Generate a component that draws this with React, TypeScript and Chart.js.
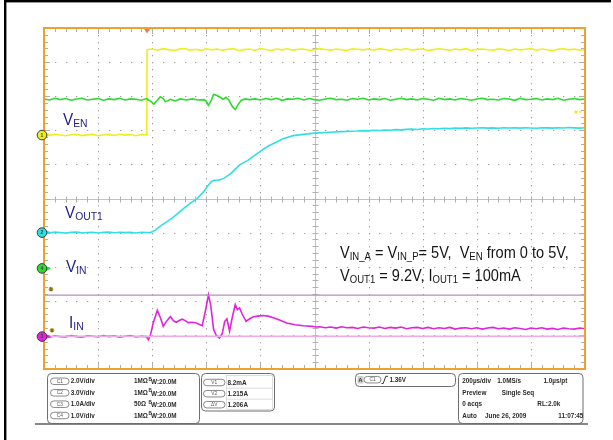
import { useEffect, useRef } from 'react';
import { Chart, registerables } from 'chart.js';

Chart.register(...registerables);

// ---- Time base: 200 µs/div, 10 divisions, time in µs from left edge of screen ----
const TIME_MIN = 0;
const TIME_MAX = 2000;
const TIME_PER_DIV = 200;
const DIV_MIN = -5;
const DIV_MAX = 5;

// ---- Channel settings (units per division, ground marker position in divisions) ----
const VEN_SCALE = 2; const VEN_OFFSET = 1.86;    // C1, 2.0 V/div
const VOUT_SCALE = 3; const VOUT_OFFSET = -1.0;  // C2, 3.0 V/div
const IIN_SCALE = 1; const IIN_OFFSET = -4.05;   // C3, 1.0 A/div
const VIN_SCALE = 1; const VIN_OFFSET = -2.05;   // C4, 1.0 V/div

const TRIGGER_TIME = 381;
const TRIGGER_LEVEL = 1.36;
const CURSOR_VALUES = [0.0082, 1.215];

// ---- C1: V_EN (V) ----
const VEN_T = [0,20,40,60,80,100,120,140,160,180,200,220,240,260,280,300,320,340,360,380,
  381,400,420,440,460,480,500,520,540,560,580,600,620,640,660,680,700,720,740,760,780,800,820,840,860,880,900,920,940,960,980,
  1000,1020,1040,1060,1080,1100,1120,1140,1160,1180,1200,1220,1240,1260,1280,1300,1320,1340,1360,1380,1400,1420,1440,1460,1480,
  1500,1520,1540,1560,1580,1600,1620,1640,1660,1680,1700,1720,1740,1760,1780,1800,1820,1840,1860,1880,1900,1920,1940,1960,1980,2000];
const VEN_V = [0.04,-0.02,0.05,0.00,-0.04,0.02,0.05,-0.03,0.01,0.04,-0.04,0.02,0.04,-0.02,0.05,0.00,0.03,-0.04,0.03,0.02,
  5.01,
  5.05,4.98,5.07,5.01,4.96,5.04,5.08,4.98,5.03,
  4.97,5.06,5.00,5.05,4.98,5.03,5.07,4.96,5.01,
  5.05,4.98,5.08,5.02,4.96,5.05,5.00,5.06,4.98,
  5.03,5.05,4.96,5.01,5.07,5.02,4.98,5.05,5.00,
  4.96,5.06,5.03,5.00,5.05,4.98,5.07,5.02,4.96,
  5.05,5.00,5.08,4.98,5.03,5.05,4.96,5.01,5.06,
  5.02,4.98,5.05,5.00,5.07,4.96,5.03,5.05,5.00,
  4.98,5.06,5.02,4.96,5.05,5.00,5.03,5.07,4.98,
  5.05,5.00,4.96,5.03,5.06,5.00,5.05,4.98,5.02];

// ---- C4: V_IN (V) ----
const VIN_T = [0,20,40,60,80,100,120,140,160,180,200,220,240,260,280,300,320,340,360,380,
  382,395,406,419,430,441,448,459,467,485,504,526,548,570,592,600,608,618,627,640,651,662,673,684,696,707,718,729,744,760,
  780,800,820,840,860,880,900,920,940,960,980,1000,1020,1040,1060,1080,1100,1120,1140,1160,1180,1200,1220,1240,1260,1280,
  1300,1320,1340,1360,1380,1400,1420,1440,1460,1480,1500,1520,1540,1560,1580,1600,1620,1640,1660,1680,1700,1720,1740,1760,
  1780,1800,1820,1840,1860,1880,1900,1920,1940,1960,1980,2000];
const VIN_V = [4.97,4.94,4.99,4.95,4.98,4.93,4.97,4.99,4.94,4.96,4.98,4.93,4.97,4.95,4.99,4.94,4.97,4.96,4.93,4.98,
  4.96,4.90,4.82,4.93,5.03,4.98,4.89,4.92,4.96,4.91,4.97,4.94,4.97,4.94,4.95,4.90,4.78,4.92,5.10,5.07,
  5.02,4.96,5.02,4.93,4.75,4.66,4.81,4.93,4.97,4.95,
  4.97,4.94,4.98,4.95,4.99,4.93,4.97,4.96,4.99,4.94,
  4.98,4.95,4.93,4.97,4.99,4.95,4.96,4.93,4.98,4.96,
  4.99,4.94,4.97,4.95,4.98,4.93,4.96,4.99,4.95,4.97,
  4.94,4.98,4.96,4.93,4.99,4.95,4.97,4.94,4.98,4.96,
  4.93,4.97,4.99,4.95,4.96,4.94,4.98,4.97,4.93,4.99,
  4.95,4.96,4.98,4.94,4.97,4.95,4.99,4.93,4.96,4.98,
  4.95,4.97];

// ---- C2: V_OUT1 (V) ----
const VOUT_T = [0,20,40,60,80,100,120,140,160,180,200,220,240,260,280,300,320,340,360,380,
  393,411,430,452,474,496,522,544,566,589,603,618,629,640,651,666,688,707,725,755,780,806,828,854,884,921,965,1002,1057,1100,1138,
  1160,1180,1200,1220,1240,1260,1280,1300,1320,1340,1360,1380,1400,1420,1440,1460,1480,1500,1520,1540,
  1560,1580,1600,1620,1640,1660,1680,1700,1720,1740,1760,1780,1800,1820,1840,1860,1880,1900,1920,1940,1960,1980,2000];
const VOUT_V = [0.03,-0.02,0.04,0.00,-0.03,0.02,0.05,-0.02,0.01,0.03,-0.04,0.02,0.04,-0.01,0.03,0.00,0.02,-0.03,0.03,0.01,
  0.00,0.22,0.57,0.92,1.27,1.71,2.24,2.64,2.99,3.56,4.04,4.48,4.61,4.61,4.66,4.79,5.14,5.58,5.98,6.37,6.81,7.25,7.60,7.91,8.26,8.53,8.66,8.75,8.83,8.88,8.92,
  8.94,8.97,8.95,9.00,8.98,9.03,9.01,9.06,9.04,9.08,
  9.10,9.07,9.13,9.11,9.16,9.14,9.18,9.15,9.19,9.17,
  9.21,9.18,9.20,9.23,9.19,9.21,9.18,9.22,9.20,9.23,
  9.19,9.22,9.20,9.18,9.23,9.21,9.19,9.22,9.20,9.24,
  9.21,9.19,9.22];

// ---- C3: I_IN (A) ----
const IIN_T = [0,20,40,60,80,100,120,140,160,180,200,220,240,260,280,300,320,340,360,
  378,386,393,404,419,430,441,452,467,478,489,500,511,522,533,548,563,577,585,596,
  608,616,627,637,649,659,668,676,686,696,707,715,723,732,747,762,774,792,811,828,
  848,873,897,928,959,990,1008,
  1020,1040,1060,1080,1100,1120,1140,1160,1180,1200,1220,1240,1260,1280,1300,1320,1340,1360,1380,1400,
  1420,1440,1460,1480,1500,1520,1540,1560,1580,1600,1620,1640,1660,1680,1700,1720,1740,1760,1780,1800,
  1820,1840,1860,1880,1900,1920,1940,1960,1980,2000];
const IIN_V = [0.01,-0.02,0.02,0.00,-0.01,0.03,0.00,-0.02,0.02,0.01,-0.01,0.03,0.00,0.02,-0.02,0.01,0.03,-0.01,0.01,
  0.00,-0.09,0.03,0.41,0.77,0.56,0.30,0.44,0.59,0.47,0.42,0.47,0.51,0.47,0.41,0.42,0.40,0.35,0.32,0.73,
  1.22,0.94,0.21,0.03,-0.04,0.09,0.44,0.52,0.16,0.56,0.94,0.79,0.84,0.67,0.45,0.53,0.58,0.60,0.62,0.60,
  0.55,0.48,0.40,0.35,0.32,0.30,0.28,
  0.29,0.26,0.28,0.25,0.29,0.26,0.27,0.24,0.28,0.26,
  0.25,0.28,0.24,0.27,0.25,0.28,0.23,0.26,0.27,0.24,
  0.27,0.23,0.26,0.24,0.27,0.22,0.25,0.26,0.23,0.26,
  0.22,0.25,0.27,0.23,0.25,0.22,0.26,0.24,0.21,0.25,
  0.23,0.26,0.22,0.24,0.21,0.25,0.23,0.22,0.25,0.23];

// ---- Text content ----
const CHANNEL_ROWS = [
  ['C1', '2.0V/div', '1MΩ'],
  ['C2', '3.0V/div', '1MΩ'],
  ['C3', '1.0A/div', '50Ω'],
  ['C4', '1.0V/div', '1MΩ'],
];
const CURSOR_ROWS = [['V1', '8.2mA'], ['V2', '1.215A'], ['ΔV', '1.206A']];

const YELLOW = '#eeee1e';
const GREEN = '#2cdc2c';
const CYAN = '#30dfe6';
const MAGENTA = '#e024dc';
const NAVY = '#24248e';
const FONT = '"Liberation Sans", Arial, Helvetica, sans-serif';

function toPoints(times: number[], values: number[], scale: number, offset: number) {
  const n = Math.min(times.length, values.length);
  const pts: { x: number; y: number }[] = [];
  for (let i = 0; i < n; i++) pts.push({ x: times[i], y: offset + values[i] / scale });
  return pts;
}

type Run = [string, boolean];
function rich(ctx: CanvasRenderingContext2D, x: number, y: number, runs: Run[], big: number, small: number, color: string, sx = 0.9) {
  ctx.save();
  ctx.fillStyle = color;
  ctx.textBaseline = 'alphabetic';
  ctx.textAlign = 'left';
  ctx.translate(x, y);
  ctx.scale(sx, 1);
  let cx = 0;
  for (const [s, sub] of runs) {
    ctx.font = `${sub ? small : big}px ${FONT}`;
    ctx.fillText(s, cx, sub ? 2 : 0);
    cx += ctx.measureText(s).width;
  }
  ctx.restore();
}

// small condensed bold text used in the readout panel
function small(ctx: CanvasRenderingContext2D, s: string, x: number, y: number, size = 7.4, sx = 0.86) {
  ctx.save();
  ctx.translate(x, y);
  ctx.scale(sx, 1);
  ctx.fillStyle = '#2a2a2a';
  ctx.font = `bold ${size}px ${FONT}`;
  ctx.textAlign = 'left';
  ctx.textBaseline = 'middle';
  ctx.fillText(s, 0, 0);
  ctx.restore();
}

function pill(ctx: CanvasRenderingContext2D, x: number, cy: number, w: number, label: string) {
  const h = 6.5;
  ctx.save();
  ctx.strokeStyle = '#6a6a6a';
  ctx.lineWidth = 0.8;
  ctx.beginPath();
  ctx.roundRect(x, cy - h / 2, w, h, h / 2);
  ctx.stroke();
  ctx.fillStyle = '#555';
  ctx.font = `4.8px ${FONT}`;
  ctx.textAlign = 'center';
  ctx.textBaseline = 'middle';
  ctx.fillText(label, x + w / 2, cy + 0.3);
  ctx.restore();
}

function marker(ctx: CanvasRenderingContext2D, x: number, y: number, fill: string, label: string) {
  ctx.save();
  ctx.fillStyle = fill;
  ctx.beginPath();
  ctx.moveTo(x + 4, y - 2.5);
  ctx.lineTo(x + 9, y);
  ctx.lineTo(x + 4, y + 2.5);
  ctx.closePath();
  ctx.fill();
  ctx.beginPath();
  ctx.arc(x, y, 4.8, 0, Math.PI * 2);
  ctx.fill();
  ctx.strokeStyle = '#3c3c3c';
  ctx.lineWidth = 1;
  ctx.stroke();
  ctx.fillStyle = '#444';
  ctx.font = `bold 5px ${FONT}`;
  ctx.textAlign = 'center';
  ctx.textBaseline = 'middle';
  ctx.fillText(label, x, y + 0.4);
  ctx.restore();
}

const scopePlugin = {
  id: 'scopeGraticule',
  beforeDatasetsDraw(chart: any) {
    const { ctx, chartArea: a, scales } = chart;
    const xs = scales.x;
    const ys = scales.y;
    ctx.save();
    const minorT = TIME_PER_DIV / 5;
    // dotted division lines (dots at every minor division)
    ctx.fillStyle = '#9c9c9c';
    for (let i = 1; i < 10; i++) {
      const px = Math.round(xs.getPixelForValue(TIME_MIN + i * TIME_PER_DIV));
      for (let k = 1; k < 50; k++) {
        const py = Math.round(ys.getPixelForValue(DIV_MIN + k * 0.2));
        ctx.fillRect(px, py, 1, 1.3);
      }
    }
    for (let j = 1; j < 10; j++) {
      const py = Math.round(ys.getPixelForValue(DIV_MIN + j));
      for (let k = 1; k < 50; k++) {
        const px = Math.round(xs.getPixelForValue(TIME_MIN + k * minorT));
        ctx.fillRect(px, py, 1.3, 1);
      }
    }
    // solid centre cross
    const cx = Math.round(xs.getPixelForValue((TIME_MIN + TIME_MAX) / 2)) + 0.5;
    const cy = Math.round(ys.getPixelForValue(0)) + 0.5;
    ctx.strokeStyle = '#c2c2c2';
    ctx.lineWidth = 1;
    ctx.beginPath();
    ctx.moveTo(cx, a.top); ctx.lineTo(cx, a.bottom);
    ctx.moveTo(a.left, cy); ctx.lineTo(a.right, cy);
    ctx.stroke();
    // minor tick marks on the frame and on the centre cross
    ctx.strokeStyle = '#b0b0b0';
    ctx.beginPath();
    for (let t = TIME_MIN + minorT; t < TIME_MAX; t += minorT) {
      const px = Math.round(xs.getPixelForValue(t)) + 0.5;
      const major = Math.abs((t / TIME_PER_DIV) - Math.round(t / TIME_PER_DIV)) < 1e-6;
      const len = major ? 6 : 4;
      ctx.moveTo(px, a.top); ctx.lineTo(px, a.top + len);
      ctx.moveTo(px, a.bottom); ctx.lineTo(px, a.bottom - len);
      ctx.moveTo(px, cy - 3); ctx.lineTo(px, cy + 3);
    }
    for (let k = 1; k < 50; k++) {
      const d = DIV_MIN + k * 0.2;
      const py = Math.round(ys.getPixelForValue(d)) + 0.5;
      const major = k % 5 === 0;
      const len = major ? 6 : 4;
      ctx.moveTo(a.left, py); ctx.lineTo(a.left + len, py);
      ctx.moveTo(a.right, py); ctx.lineTo(a.right - len, py);
      ctx.moveTo(cx - 3, py); ctx.lineTo(cx + 3, py);
    }
    ctx.stroke();
    ctx.restore();
  },
  afterDraw(chart: any) {
    const { ctx, chartArea: a, scales } = chart;
    const xs = scales.x;
    const ys = scales.y;
    ctx.save();
    // orange graticule frame
    ctx.strokeStyle = '#f0a030';
    ctx.lineWidth = 2;
    ctx.strokeRect(a.left, a.top, a.right - a.left, a.bottom - a.top);

    // page frame
    ctx.fillStyle = '#000';
    ctx.fillRect(4, 0, 607, 2.4);
    ctx.fillRect(4, 0, 2.4, 440);
    ctx.fillStyle = '#555';
    ctx.fillRect(35, 423.3, 553, 1.4);

    // trigger position marker
    const tx = xs.getPixelForValue(TRIGGER_TIME);
    ctx.fillStyle = '#f07a55';
    ctx.beginPath();
    ctx.moveTo(tx - 3, a.top + 1);
    ctx.lineTo(tx + 3, a.top + 1);
    ctx.lineTo(tx, a.top + 5.5);
    ctx.closePath();
    ctx.fill();

    // trigger level marker on C1
    const ty = ys.getPixelForValue(VEN_OFFSET + TRIGGER_LEVEL / VEN_SCALE);
    ctx.fillStyle = YELLOW;
    ctx.beginPath();
    ctx.arc(a.right - 9, ty, 1.7, 0, Math.PI * 2);
    ctx.fill();
    ctx.fillRect(a.right - 6, ty - 0.6, 3, 1.2);

    // channel ground markers
    const mx = a.left - 2;
    marker(ctx, mx, ys.getPixelForValue(VEN_OFFSET), YELLOW, '1');
    marker(ctx, mx, ys.getPixelForValue(VOUT_OFFSET), CYAN, '2');
    marker(ctx, mx, ys.getPixelForValue(VIN_OFFSET), GREEN, '4');
    marker(ctx, mx, ys.getPixelForValue(IIN_OFFSET), MAGENTA, '3');

    // cursor labels
    const cb = ys.getPixelForValue(IIN_OFFSET + CURSOR_VALUES[1] / IIN_SCALE);
    const ca = ys.getPixelForValue(IIN_OFFSET + CURSOR_VALUES[0] / IIN_SCALE);
    ctx.fillStyle = '#c8a848';
    ctx.font = `bold 5px ${FONT}`;
    ctx.textAlign = 'center';
    ctx.textBaseline = 'middle';
    ctx.beginPath(); ctx.arc(51, cb - 6, 2.4, 0, Math.PI * 2); ctx.fill();
    ctx.beginPath(); ctx.arc(52, ca - 6, 2.4, 0, Math.PI * 2); ctx.fill();
    ctx.fillStyle = '#5a4a10';
    ctx.fillText('b', 51, cb - 5.8);
    ctx.fillText('a', 52, ca - 5.8);

    // trace labels
    rich(ctx, 63, 125, [['V', false], ['EN', true]], 17, 11.5, NAVY);
    rich(ctx, 65, 218, [['V', false], ['OUT1', true]], 17, 11.5, NAVY);
    rich(ctx, 66, 272, [['V', false], ['IN', true]], 17, 11.5, NAVY);
    rich(ctx, 69, 328, [['I', false], ['IN', true]], 17, 11.5, NAVY);

    // annotation
    rich(ctx, 340, 258, [['V', false], ['IN_A', true], [' = V', false], ['IN_P', true], ['= 5V,  V', false], ['EN', true], [' from 0 to 5V,', false]], 16, 10.5, '#151515', 0.91);
    rich(ctx, 340, 281, [['V', false], ['OUT1', true], [' = 9.2V, I', false], ['OUT1', true], [' = 100mA', false]], 16, 10.5, '#151515', 0.91);

    // ---- bottom readout panel ----
    ctx.strokeStyle = '#6e6e6e';
    ctx.lineWidth = 1;
    const box = (x: number, y: number, w: number, h: number) => {
      ctx.beginPath();
      ctx.roundRect(x + 0.5, y + 0.5, w, h, 4);
      ctx.stroke();
    };
    box(47, 373, 152, 50);
    box(201, 373, 73, 37.5);
    box(355, 373, 100, 13);
    box(458, 373, 124.5, 50);

    const rowsY = [381.3, 392.8, 404.2, 415.5];
    CHANNEL_ROWS.forEach((r, i) => {
      const y = rowsY[i];
      pill(ctx, 50.5, y, 18.5, r[0]);
      small(ctx, r[1], 70.7, y);
      small(ctx, r[2], 134, y);
      small(ctx, 'B', 148.5, y - 1.8, 4.6, 1);
      small(ctx, 'W:20.0M', 151, y + 0.7);
    });

    // cursor table
    const cRowsY = [382.5, 393.7, 404.7];
    ctx.strokeStyle = '#d6d6d6';
    ctx.lineWidth = 0.8;
    ctx.beginPath();
    ctx.moveTo(226.5, 375); ctx.lineTo(226.5, 409);
    ctx.moveTo(272.5, 375); ctx.lineTo(272.5, 409);
    ctx.moveTo(226.5, 375.5); ctx.lineTo(272.5, 375.5);
    ctx.moveTo(226.5, 388.2); ctx.lineTo(272.5, 388.2);
    ctx.moveTo(226.5, 399.2); ctx.lineTo(272.5, 399.2);
    ctx.moveTo(226.5, 409.5); ctx.lineTo(272.5, 409.5);
    ctx.stroke();
    CURSOR_ROWS.forEach((r, i) => {
      const y = cRowsY[i];
      pill(ctx, 203.5, y, 21.5, r[0]);
      small(ctx, r[1], 227.5, y);
    });

    // trigger box
    ctx.fillStyle = '#cfcfcf';
    ctx.fillRect(357.5, 376, 6, 7.5);
    ctx.fillStyle = '#333';
    ctx.font = `bold 6px ${FONT}`;
    ctx.textAlign = 'center';
    ctx.textBaseline = 'middle';
    ctx.fillText('A', 360.5, 380.2);
    pill(ctx, 364, 379.7, 17, 'C1');
    ctx.strokeStyle = '#333';
    ctx.lineWidth = 1;
    ctx.beginPath();
    ctx.moveTo(381.5, 383.5); ctx.lineTo(383.2, 383.5); ctx.lineTo(385.8, 376.3); ctx.lineTo(388, 376.3);
    ctx.stroke();
    small(ctx, '1.36V', 389.5, 380);

    // timebase box
    small(ctx, '200µs/div', 462.3, rowsY[0]);
    small(ctx, '1.0MS/s', 497.3, rowsY[0]);
    small(ctx, '1.0µs/pt', 543.5, rowsY[0]);
    small(ctx, 'Preview', 462.3, rowsY[1]);
    small(ctx, 'Single Seq', 501.7, rowsY[1]);
    small(ctx, '0 acqs', 462.3, rowsY[2]);
    small(ctx, 'RL:2.0k', 537.3, rowsY[2]);
    small(ctx, 'Auto', 462.3, rowsY[3]);
    small(ctx, 'June 26, 2009', 485, rowsY[3]);
    small(ctx, '11:07:45', 558.3, rowsY[3]);

    ctx.restore();
  },
};

export default function App() {
  const ref = useRef<HTMLCanvasElement | null>(null);
  useEffect(() => {
    if (!ref.current) return;
    const cursorLine = (v: number) => [
      { x: TIME_MIN, y: IIN_OFFSET + v / IIN_SCALE },
      { x: TIME_MAX, y: IIN_OFFSET + v / IIN_SCALE },
    ];
    const trace = (label: string, data: any, color: string, width = 1.6) => ({
      label, data, borderColor: color, backgroundColor: color, borderWidth: width,
      pointRadius: 0, tension: 0, fill: false,
    });
    const chart = new Chart(ref.current, {
      type: 'line',
      data: {
        datasets: [
          trace('Cursor a', cursorLine(CURSOR_VALUES[0]), '#e8aee8', 1.6),
          trace('Cursor b', cursorLine(CURSOR_VALUES[1]), '#b98cb9', 1.4),
          trace('V_OUT1', toPoints(VOUT_T, VOUT_V, VOUT_SCALE, VOUT_OFFSET), CYAN),
          trace('I_IN', toPoints(IIN_T, IIN_V, IIN_SCALE, IIN_OFFSET), MAGENTA),
          trace('V_IN', toPoints(VIN_T, VIN_V, VIN_SCALE, VIN_OFFSET), GREEN),
          trace('V_EN', toPoints(VEN_T, VEN_V, VEN_SCALE, VEN_OFFSET), YELLOW),
        ],
      },
      options: {
        animation: false,
        responsive: false,
        devicePixelRatio: 1,
        parsing: false as any,
        layout: { padding: { left: 44, right: 28, top: 28, bottom: 71 } },
        plugins: { legend: { display: false }, tooltip: { enabled: false } },
        events: [],
        scales: {
          x: {
            type: 'linear', min: TIME_MIN, max: TIME_MAX,
            ticks: { display: false, stepSize: TIME_PER_DIV },
            grid: { display: false, drawTicks: false },
            border: { display: false },
          },
          y: {
            type: 'linear', min: DIV_MIN, max: DIV_MAX,
            ticks: { display: false, stepSize: 1 },
            grid: { display: false, drawTicks: false },
            border: { display: false },
          },
        },
      },
      plugins: [scopePlugin],
    });
    return () => chart.destroy();
  }, []);
  return (
    <div style={{ position: 'fixed', left: 0, top: 0, width: 613, height: 440, background: '#fff' }}>
      <canvas ref={ref} width={613} height={440} style={{ display: 'block' }} />
    </div>
  );
}
